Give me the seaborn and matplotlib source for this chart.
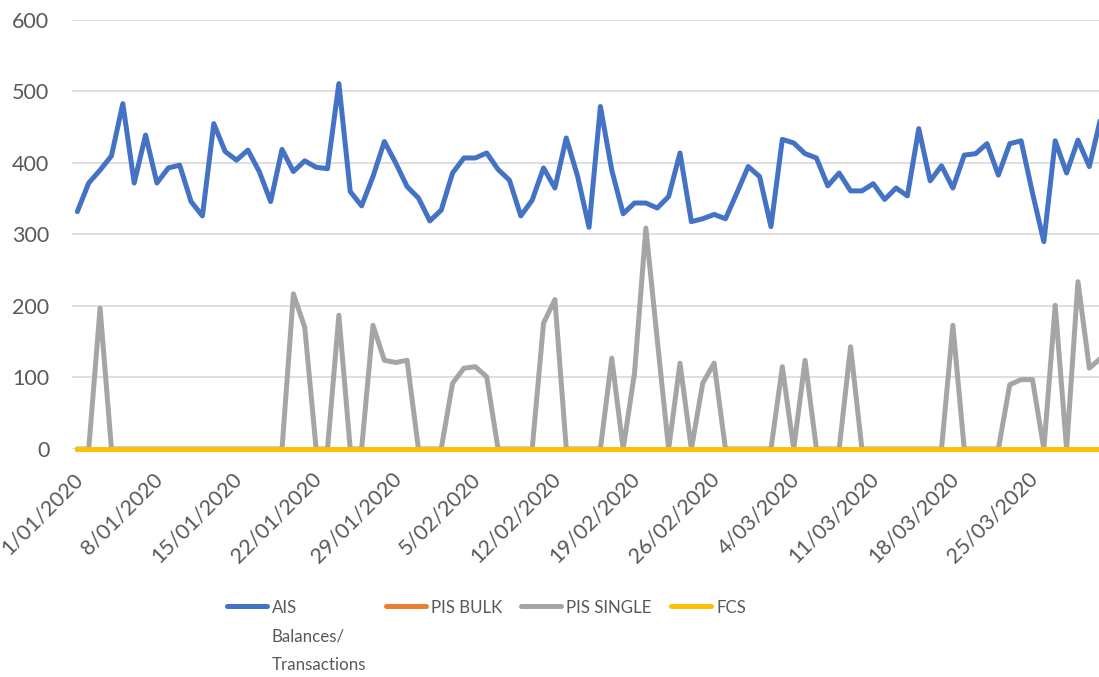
import numpy as np
import pandas as pd
import seaborn as sns
import matplotlib.pyplot as plt
from matplotlib.transforms import ScaledTranslation

# daily counts, 1 Jan - 31 Mar 2020
dates = pd.date_range('2020-01-01', '2020-03-31', freq='D')

ais = [332, 372, 390, 410, 483, 372, 439, 372, 393, 397,
       346, 326, 455, 416, 404, 418, 388, 346, 419, 388,
       403, 394, 392, 511, 360, 340, 381, 430, 400, 367,
       351, 319, 334, 386, 407, 407, 414, 391, 376, 326,
       348, 393, 365, 435, 381, 310, 479, 390, 329, 344,
       344, 337, 353, 414, 318, 322, 328, 322, 358, 395,
       381, 311, 433, 428, 413, 407, 368, 386, 361, 361,
       371, 349, 365, 354, 448, 375, 396, 365, 411, 413,
       427, 383, 427, 431, 358, 290, 431, 386, 432, 395,
       463]

pis_bulk = [0, 0, 0, 0, 0, 0, 0, 0, 0, 0,
            0, 0, 0, 0, 0, 0, 0, 0, 0, 0,
            0, 0, 0, 0, 0, 0, 0, 0, 0, 0,
            0, 0, 0, 0, 0, 0, 0, 0, 0, 0,
            0, 0, 0, 0, 0, 0, 0, 0, 0, 0,
            0, 0, 0, 0, 0, 0, 0, 0, 0, 0,
            0, 0, 0, 0, 0, 0, 0, 0, 0, 0,
            0, 0, 0, 0, 0, 0, 0, 0, 0, 0,
            0, 0, 0, 0, 0, 0, 0, 0, 0, 0,
            0]

pis_single = [0, 0, 197, 0, 0, 0, 0, 0, 0, 0,
              0, 0, 0, 0, 0, 0, 0, 0, 0, 217,
              170, 0, 0, 187, 0, 0, 173, 124, 121, 124,
              0, 0, 0, 92, 113, 115, 101, 0, 0, 0,
              0, 176, 209, 0, 0, 0, 0, 127, 0, 106,
              309, 153, 0, 120, 0, 92, 120, 0, 0, 0,
              0, 0, 115, 0, 124, 0, 0, 0, 143, 0,
              0, 0, 0, 0, 0, 0, 0, 173, 0, 0,
              0, 0, 90, 97, 97, 0, 201, 0, 234, 113,
              127]

fcs = [0, 0, 0, 0, 0, 0, 0, 0, 0, 0,
       0, 0, 0, 0, 0, 0, 0, 0, 0, 0,
       0, 0, 0, 0, 0, 0, 0, 0, 0, 0,
       0, 0, 0, 0, 0, 0, 0, 0, 0, 0,
       0, 0, 0, 0, 0, 0, 0, 0, 0, 0,
       0, 0, 0, 0, 0, 0, 0, 0, 0, 0,
       0, 0, 0, 0, 0, 0, 0, 0, 0, 0,
       0, 0, 0, 0, 0, 0, 0, 0, 0, 0,
       0, 0, 0, 0, 0, 0, 0, 0, 0, 0,
       0]

series = ['AIS', 'PIS BULK', 'PIS SINGLE', 'FCS']
legend_labels = ['AIS\nBalances/\nTransactions', 'PIS BULK', 'PIS SINGLE', 'FCS']
colors = ['#4472C4', '#ED7D31', '#A5A5A5', '#FFC000']

df = pd.DataFrame({'date': dates, 'AIS': ais, 'PIS BULK': pis_bulk,
                   'PIS SINGLE': pis_single, 'FCS': fcs})
long = df.melt(id_vars='date', var_name='series', value_name='count')

sns.set_style('white')
plt.rcParams['font.family'] = ['Lato', 'DejaVu Sans']
text_col = '#595959'
grid_col = '#D9D9D9'

fig = plt.figure(figsize=(10.99, 6.77), dpi=100)
ax = fig.add_axes([0.0652, 0.3368, 0.9348, 0.6337])

sns.lineplot(data=long, x='date', y='count', hue='series', hue_order=series,
             palette=colors, linewidth=3.6, legend=False, ax=ax,
             solid_capstyle='round', solid_joinstyle='round', clip_on=False)

half = pd.Timedelta(hours=12)
ax.set_xlim(dates[0] - half, dates[0] - half + pd.Timedelta(days=90.35))
ax.set_ylim(0, 600)
ax.set_yticks(range(0, 601, 100))

tick_dates = dates[::7]
ax.set_xticks(tick_dates - half)
ax.set_xticklabels([f'{d.day}/{d.month:02d}/{d.year}' for d in tick_dates],
                   rotation=45, ha='right', va='center', rotation_mode='anchor')

ax.set_xlabel('')
ax.set_ylabel('')
ax.grid(axis='y', color=grid_col, linewidth=1.2)
ax.set_axisbelow(True)
for s in ax.spines.values():
    s.set_visible(False)
ax.tick_params(axis='y', length=0, pad=16, labelsize=15.5, labelcolor=text_col)
ax.tick_params(axis='x', length=5, width=1.2, color=grid_col, pad=0,
               labelsize=15.5, labelcolor=text_col)

# nudge the rotated date labels so their ends sit just below each tick
offset = ScaledTranslation(8 / 100, -20 / 100, fig.dpi_scale_trans)
for lab in ax.get_xticklabels():
    lab.set_transform(lab.get_transform() + offset)

leg = fig.legend(handles=ax.lines[:4], labels=legend_labels, ncol=4,
                 loc='upper left', bbox_to_anchor=(0.2065, 0.1137),
                 frameon=False, fontsize=12.2, handlelength=2.35,
                 handletextpad=0.3, columnspacing=1.15, borderpad=0,
                 borderaxespad=0)
for t in leg.get_texts():
    t.set_color(text_col)
leg.get_texts()[0].set_linespacing(1.95)
# keep the handles level with the first line of each label
leg._legend_handle_box.align = 'top'
for col in leg._legend_handle_box.get_children():
    col.align = 'top'
    for item in col.get_children():
        item.align = 'top'

fig.savefig('out.png', dpi=100)
